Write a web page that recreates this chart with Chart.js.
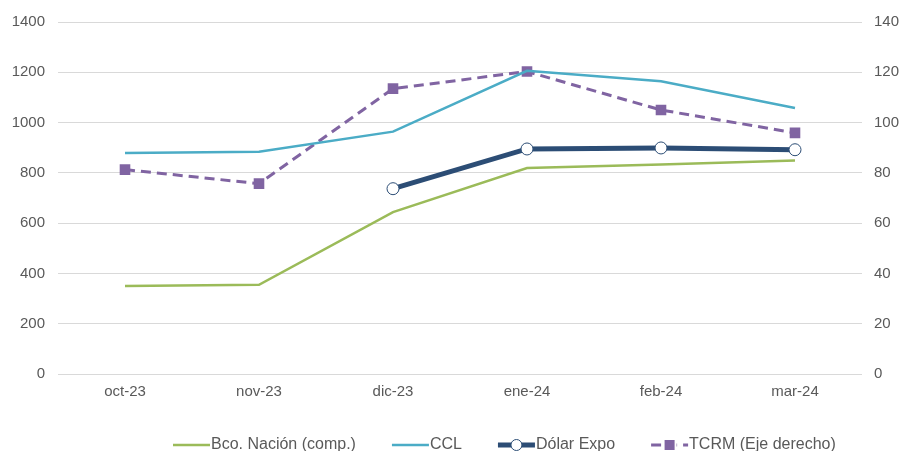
<!DOCTYPE html>
<html><head><meta charset="utf-8">
<script src="https://cdn.jsdelivr.net/npm/chart.js@4/dist/chart.umd.min.js"></script>
<style>html,body{margin:0;padding:0;background:#fff}#wrap{width:903px;height:455px}</style>
</head><body><div id="wrap"><canvas id="c" width="903" height="455"></canvas></div>
<script>
const categories = ["oct-23","nov-23","dic-23","ene-24","feb-24","mar-24"];
const bcoNacion = [350, 355, 644, 819, 833, 849];
const ccl = [879, 884, 964, 1206, 1164, 1058];
const dolarExpo = [null, null, 737, 895, 899, 892];
const tcrm = [81.3, 75.7, 113.5, 120.3, 105.0, 95.9];
const leftTicks = [0,200,400,600,800,1000,1200,1400];
const rightTicks = [0,20,40,60,80,100,120,140];

const FONT = "'Liberation Sans', Arial, sans-serif";
const LEG_PAD = 36, LEG_BOX = 30, LEG_FONT = 16;

const legendPlacer = {
  id: 'legendPlacer',
  afterLayout(chart) {
    const lg = chart.legend; if (!lg) return;
    const h = lg.height;
    lg.left = 173 - LEG_PAD;
    lg.top = 445 - LEG_FONT / 2 - LEG_PAD;
    lg.bottom = lg.top + h;
  },
  afterDraw(chart) {
    const lg = chart.legend; if (!lg || !lg.legendHitBoxes) return;
    const ctx = chart.ctx;
    lg.legendHitBoxes.forEach((hb, i) => {
      const ds = chart.data.datasets[i];
      const x0 = hb.left, x1 = hb.left + LEG_BOX + LEG_FONT / 2 - 1;
      const cy = hb.top + hb.height / 2;
      const cx = (x0 + x1) / 2;
      ctx.save();
      ctx.beginPath();
      ctx.strokeStyle = ds.borderColor;
      ctx.lineWidth = ds.borderWidth;
      ctx.setLineDash(ds.borderDash || []);
      ctx.moveTo(x0, cy); ctx.lineTo(x1, cy); ctx.stroke();
      ctx.setLineDash([]);
      if (ds.pointStyle === 'circle') {
        ctx.beginPath(); ctx.arc(cx, cy, 5.5, 0, Math.PI * 2);
        ctx.fillStyle = '#fff'; ctx.fill();
        ctx.lineWidth = 1; ctx.strokeStyle = ds.pointBorderColor; ctx.stroke();
      } else if (ds.pointStyle === 'rect') {
        ctx.fillStyle = '#fff';
        ctx.fillRect(cx - 7, cy - 3, 14, 6);
        ctx.fillStyle = ds.pointBackgroundColor;
        ctx.fillRect(cx - 5, cy - 5, 10, 10);
      }
      ctx.restore();
    });
  }
};

new Chart(document.getElementById('c'), {
  type: 'line',
  data: {
    labels: categories,
    datasets: [
      { label: 'Bco. Nación (comp.)', data: bcoNacion, yAxisID: 'y', borderColor: '#9BBB59', backgroundColor: '#9BBB59', borderWidth: 2.5, pointRadius: 0, pointStyle: false, tension: 0 },
      { label: 'CCL', data: ccl, yAxisID: 'y', borderColor: '#4BACC6', backgroundColor: '#4BACC6', borderWidth: 2.5, pointRadius: 0, pointStyle: false, tension: 0 },
      { label: 'Dólar Expo', data: dolarExpo, yAxisID: 'y', borderColor: '#2C4D75', backgroundColor: '#2C4D75', borderWidth: 5, pointStyle: 'circle', pointRadius: 6, pointBackgroundColor: '#fff', pointBorderColor: '#2C4D75', pointBorderWidth: 1, tension: 0, spanGaps: false },
      { label: 'TCRM (Eje derecho)', data: tcrm, yAxisID: 'y1', borderColor: '#8064A2', backgroundColor: '#8064A2', borderWidth: 3, borderDash: [10, 6], pointStyle: 'rect', pointRadius: 7.5, pointBackgroundColor: '#8064A2', pointBorderColor: '#8064A2', pointBorderWidth: 0, tension: 0 }
    ]
  },
  options: {
    responsive: false,
    animation: false,
    devicePixelRatio: 1,
    layout: { padding: { top: 15, bottom: 0, left: 0, right: 0 } },
    plugins: {
      tooltip: { enabled: false },
      legend: {
        position: 'bottom',
        align: 'start',
        maxHeight: 50,
        labels: {
          font: { family: FONT, size: LEG_FONT }, color: '#595959',
          boxWidth: LEG_BOX, boxHeight: 0, padding: LEG_PAD,
          generateLabels(chart) {
            const items = Chart.defaults.plugins.legend.labels.generateLabels(chart);
            return items.map(it => Object.assign(it, { lineWidth: 0, fillStyle: 'rgba(0,0,0,0)', strokeStyle: 'rgba(0,0,0,0)', lineDash: [] }));
          }
        }
      }
    },
    scales: {
      x: {
        offset: true,
        grid: { display: false, drawTicks: false },
        border: { display: false },
        ticks: { font: { family: FONT, size: 15 }, color: '#595959', padding: 9, maxRotation: 0 },
        afterFit(s) { s.height = 31; }
      },
      y: {
        position: 'left', min: 0, max: 1400,
        afterBuildTicks(s) { s.ticks = leftTicks.map(v => ({ value: v })); },
        grid: { color: '#D9D9D9', lineWidth: 1, drawTicks: false },
        border: { display: false },
        ticks: { font: { family: FONT, size: 15 }, color: '#595959', padding: 13, callback: v => String(v) },
        afterFit(s) { s.width = 58; }
      },
      y1: {
        position: 'right', min: 0, max: 140,
        afterBuildTicks(s) { s.ticks = rightTicks.map(v => ({ value: v })); },
        grid: { display: false, drawTicks: false },
        border: { display: false },
        ticks: { font: { family: FONT, size: 15 }, color: '#595959', padding: 12, callback: v => String(v) },
        afterFit(s) { s.width = 41; }
      }
    }
  },
  plugins: [legendPlacer]
});
</script>
</body></html>
